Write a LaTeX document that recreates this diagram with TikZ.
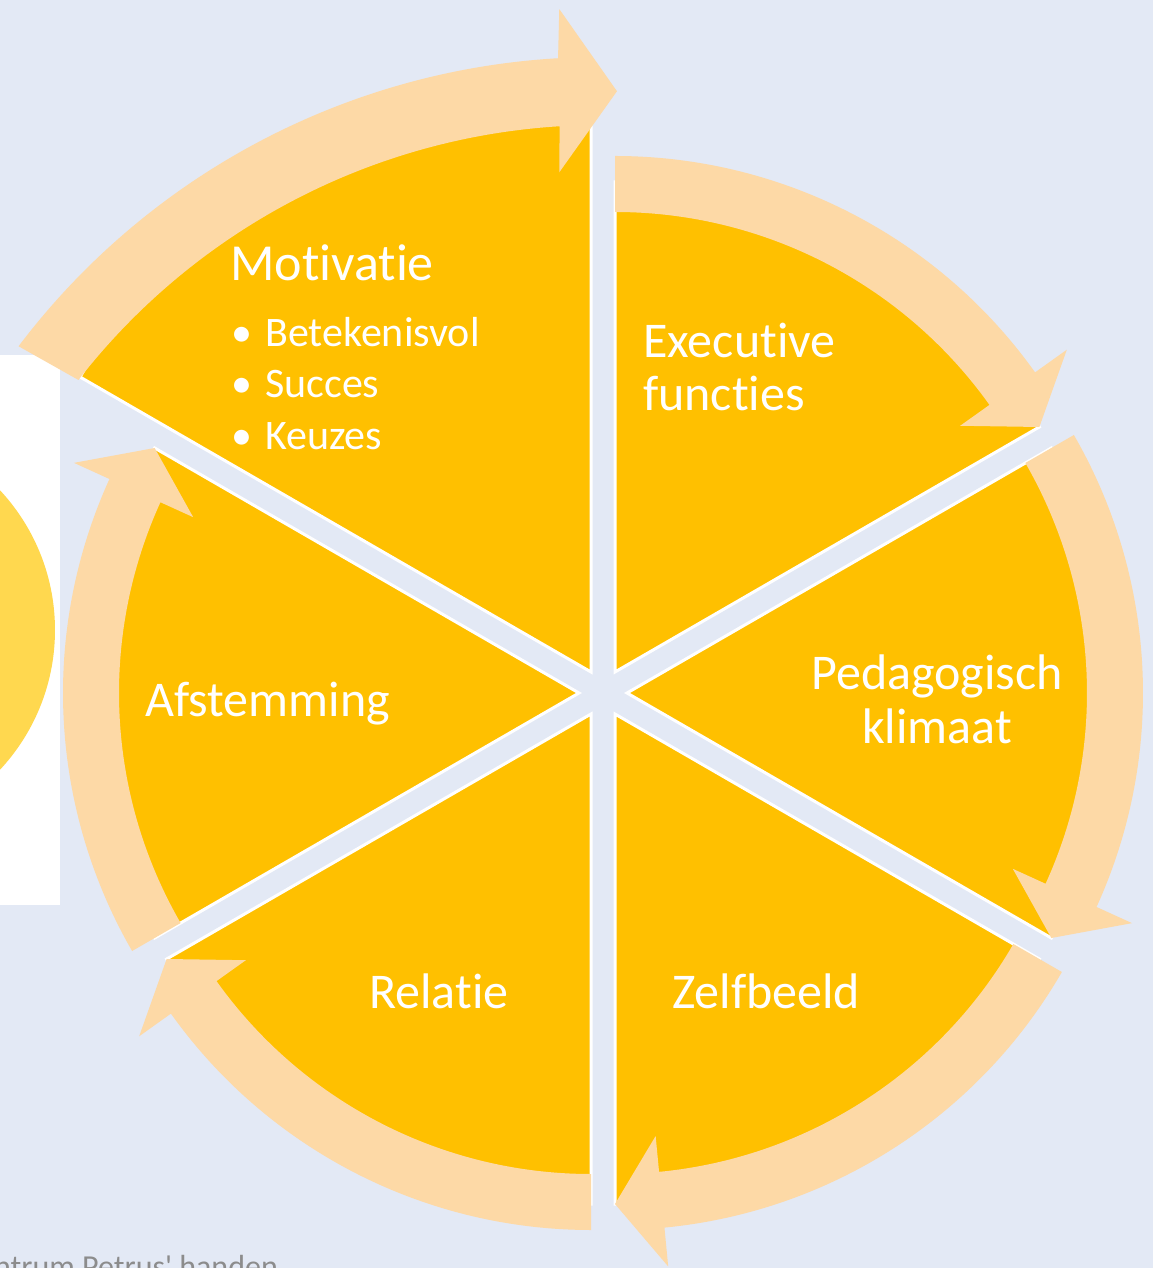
\documentclass[tikz,border=0pt]{standalone}
\usepackage{fontspec}
\setmainfont[Ligatures={NoCommon,TeXOff}]{Carlito}
\definecolor{bgblue}{HTML}{E3E9F5}
\definecolor{gold}{HTML}{FFC000}
\definecolor{peach}{HTML}{FDD9A6}
\definecolor{sunny}{HTML}{FFD84F}
\definecolor{credgray}{HTML}{8C8C8C}

\tikzset{
  segment/.style={fill=gold, draw=white, line width=3pt},
  band/.style={fill=peach},
  seglabel/.style={text=white, inner sep=0pt, font=\fontsize{50}{60}\selectfont},
  bulletlabel/.style={text=white, inner sep=0pt, font=\fontsize{42}{50}\selectfont}
}

% wedge: apex, start angle
\newcommand{\cyclewedge}[2]{%
  \filldraw[segment, shift={#1}] (0,0) -- (#2:490)
    arc[start angle=#2, end angle={#2+60}, radius=490] -- cycle;}
% curved arrow on a wedge: apex, angle of the tip
\newcommand{\cyclearrow}[2]{%
  \fill[band, shift={#1}] ({#2+60}:516)
    arc[start angle={#2+60}, end angle={#2+5.5}, radius=516]
    -- ({#2+5.5}:555) -- (#2:490) -- ({#2+5.5}:424) -- ({#2+5.5}:460)
    arc[start angle={#2+5.5}, end angle={#2+60}, radius=460] -- cycle;}

\begin{document}
\begin{tikzpicture}[x=1pt,y=1pt]
\useasboundingbox (-603,-575) rectangle (550,693);
\fill[bgblue] (-603,-575) rectangle (550,693);

% picture at the left
\fill[white] (-603,338) rectangle (-543,-212);
\begin{scope}
  \clip (-603,338) rectangle (-548,-212);
  \fill[sunny] (-753,63) circle (205);
\end{scope}

% wedges
\filldraw[segment, shift={(-12,21)}] (0,0) -- (150:590)
  arc[start angle=150, end angle=90, radius=590] -- cycle;
\cyclewedge{(12,21)}{30}
\cyclewedge{(24,0)}{-30}
\cyclewedge{(12,-21)}{-90}
\cyclewedge{(-12,-21)}{-150}
\cyclewedge{(-24,0)}{150}

% arrows
\fill[band, shift={(-3,-93)}] (142.9:729)
  arc[start angle=142.9, end angle=93.3, radius=729]
  -- (93.0:778) -- (88.6:695) -- (93.8:615) -- (93.5:661)
  arc[start angle=93.5, end angle=142.1, radius=661] -- cycle;
\cyclearrow{(12,21)}{30}
\cyclearrow{(24,0)}{-30}
\cyclearrow{(12,-21)}{-90}
\cyclearrow{(-12,-21)}{-150}
\cyclearrow{(-24,0)}{150}

% labels
\node[seglabel, anchor=base west, font=\fontsize{52}{60}\selectfont] (mot) at (-373,412) {Motivatie};
\node[bulletlabel, anchor=base west] (betek) at (-372,346) {\makebox[34pt][l]{•}Betekenisvol};
\node[bulletlabel, anchor=base west] (succes) at (-372,295) {\makebox[34pt][l]{•}Succes};
\node[bulletlabel, anchor=base west] (keuzes) at (-372,243) {\makebox[34pt][l]{•}Keuzes};
\node[seglabel, anchor=base west] (exec) at (40,335) {Executive};
\node[seglabel, anchor=base west] (functies) at (40,282) {functies};
\node[seglabel, anchor=base] (ped) at (334,3) {Pedagogisch};
\node[seglabel, anchor=base] (klimaat) at (334,-51) {klimaat};
\node[seglabel, anchor=base west] (afst) at (-458,-24) {Afstemming};
\node[seglabel, anchor=base west] (relatie) at (-234,-315) {Relatie};
\node[seglabel, anchor=base west] (zelf) at (69,-315) {Zelfbeeld};

% caption cut off at the bottom
\node[text=credgray, inner sep=0pt, anchor=base west, font=\fontsize{32}{38}\selectfont] (credit) at (-609,-584) {ntrum Petrus' handen};
\end{tikzpicture}
\end{document}
